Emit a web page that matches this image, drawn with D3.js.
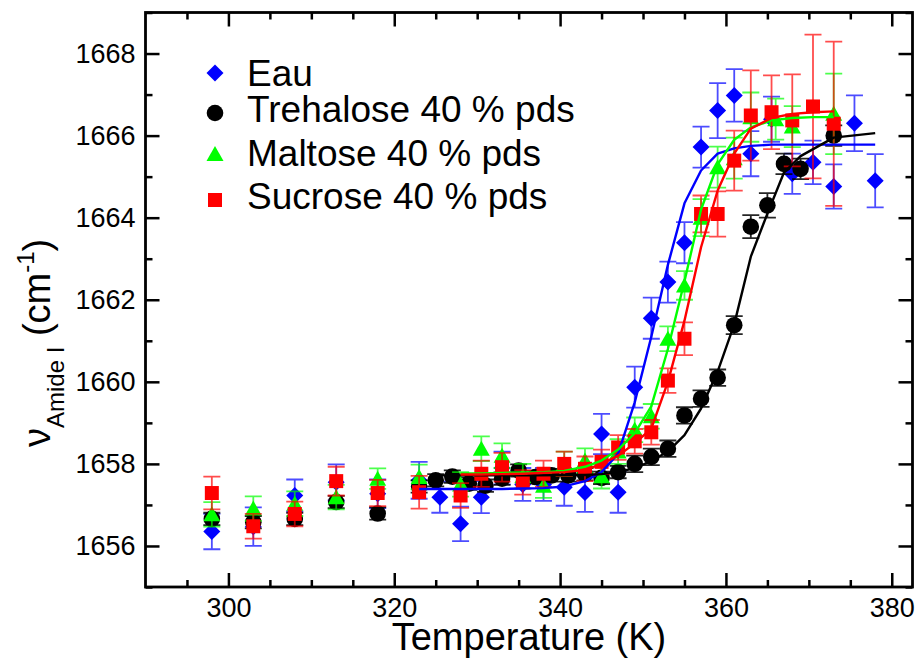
<!DOCTYPE html>
<html><head><meta charset="utf-8">
<script src="https://cdn.jsdelivr.net/npm/d3@7"></script>
<style>
body{margin:0;background:#fff}
svg{display:block}
text{font-family:"Liberation Sans",Arial,Helvetica,sans-serif;fill:#000}
</style>
</head><body>
<svg id="chart" width="919" height="658"></svg>
<script>
// ---------- data ----------
const xTicks = [300, 320, 340, 360, 380];
const yTicks = [1656, 1658, 1660, 1662, 1664, 1666, 1668];
const seriesNames = ["Eau", "Trehalose 40 % pds", "Maltose 40 % pds", "Sucrose 40 % pds"];

const eauT = [298, 303, 308, 313, 318, 323, 325.5, 328, 330.5, 333, 335.5, 338, 340.5, 343, 345, 347, 349, 351, 353, 355, 357, 359, 361, 363, 365.5, 368, 370.5, 373, 375.5, 378];
const eauV = [1656.35, 1656.47, 1657.23, 1657.55, 1657.27, 1657.6, 1657.19, 1656.54, 1657.19, 1657.9, 1657.5, 1657.5, 1657.43, 1657.3, 1658.73, 1657.31, 1659.87, 1661.55, 1662.43, 1663.39, 1665.72, 1666.61, 1666.98, 1665.56, 1666.4, 1665.07, 1665.35, 1664.76, 1666.3, 1664.9];
const eauE = [0.43, 0.47, 0.39, 0.44, 0.35, 0.45, 0.38, 0.42, 0.39, 0.4, 0.4, 0.4, 0.45, 0.47, 0.49, 0.5, 0.5, 0.5, 0.5, 0.5, 0.5, 0.67, 0.64, 0.55, 0.55, 0.49, 0.53, 0.54, 0.68, 0.65];

const treT = [298, 303, 308, 313, 318, 323, 325, 327, 329, 331, 333, 335, 337, 339, 341, 343, 345, 347, 349, 351, 353, 355, 357, 359, 361, 363, 365, 367, 369, 373];
const treV = [1656.66, 1656.58, 1656.66, 1657.07, 1656.79, 1657.45, 1657.6, 1657.69, 1657.52, 1657.47, 1657.64, 1657.84, 1657.68, 1657.72, 1657.72, 1657.75, 1657.66, 1657.8, 1658.0, 1658.17, 1658.37, 1659.18, 1659.59, 1660.1, 1661.38, 1663.78, 1664.3, 1665.31, 1665.19, 1666.0];
const treE = [0.15, 0.15, 0.15, 0.15, 0.15, 0.15, 0.15, 0.15, 0.15, 0.15, 0.15, 0.15, 0.15, 0.15, 0.15, 0.15, 0.15, 0.15, 0.2, 0.2, 0.2, 0.2, 0.2, 0.2, 0.22, 0.28, 0.3, 0.25, 0.25, 0.25];

const malT = [298, 303, 308, 313, 318, 323, 328, 330.5, 333, 335.5, 338, 340.5, 343, 345, 347, 349, 351, 353, 355, 357, 359, 361, 363, 366, 368, 373];
const malV = [1656.77, 1656.91, 1657.03, 1657.19, 1657.64, 1657.68, 1657.5, 1658.37, 1658.2, 1657.7, 1657.47, 1658.0, 1658.08, 1657.7, 1658.3, 1658.83, 1659.16, 1661.05, 1662.35, 1664.0, 1665.23, 1665.45, 1666.45, 1666.4, 1666.22, 1666.53];
const malE = [0.3, 0.3, 0.3, 0.3, 0.25, 0.3, 0.3, 0.3, 0.3, 0.3, 0.3, 0.3, 0.3, 0.3, 0.3, 0.3, 0.3, 0.3, 0.35, 0.45, 0.5, 0.5, 0.6, 0.5, 0.5, 0.98];

const sucT = [298, 303, 308, 313, 318, 323, 328, 330.5, 333, 335.5, 338, 340.5, 343, 345, 347, 349, 351, 353, 355, 357, 359, 361, 363, 365.5, 368, 370.5, 373];
const sucV = [1657.29, 1656.48, 1656.78, 1657.58, 1657.29, 1657.31, 1657.23, 1657.76, 1657.92, 1657.55, 1657.76, 1658.0, 1657.88, 1658.05, 1658.4, 1658.55, 1658.77, 1660.03, 1661.05, 1664.09, 1664.09, 1665.39, 1666.49, 1666.57, 1666.37, 1666.71, 1666.29];
const sucE = [0.4, 0.3, 0.3, 0.35, 0.32, 0.4, 0.3, 0.32, 0.35, 0.3, 0.32, 0.3, 0.3, 0.3, 0.3, 0.3, 0.3, 0.3, 0.4, 0.45, 0.55, 0.73, 1.1, 0.9, 1.12, 1.75, 2.0];

// fitted sigmoid curves
const eauFitT = [323, 325.5, 328, 330.5, 333, 335.5, 338, 340.5, 343, 345, 347, 349, 351, 353, 355, 357, 359, 361, 363, 365.5, 368, 370.5, 373, 375.5, 378];
const eauFitV = [1657.39, 1657.39, 1657.39, 1657.39, 1657.39, 1657.4, 1657.41, 1657.45, 1657.58, 1657.8, 1658.25, 1659.5, 1661.1, 1662.85, 1664.35, 1665.15, 1665.56, 1665.69, 1665.75, 1665.78, 1665.78, 1665.78, 1665.78, 1665.78, 1665.78];
const treFitT = [325, 329, 333, 337, 341, 343, 345, 347, 349, 351, 353, 355, 357, 359, 361, 363, 365, 367, 369, 373, 378];
const treFitV = [1657.72, 1657.72, 1657.72, 1657.72, 1657.73, 1657.73, 1657.75, 1657.8, 1657.9, 1658.07, 1658.3, 1658.7, 1659.35, 1660.25, 1661.4, 1663.05, 1664.1, 1665.1, 1665.5, 1665.95, 1666.06];
const malFitT = [328, 330.5, 333, 335.5, 338, 340.5, 343, 345, 347, 349, 351, 353, 355, 357, 359, 361, 363, 365.5, 368, 370.5, 373];
const malFitV = [1657.77, 1657.77, 1657.78, 1657.79, 1657.8, 1657.83, 1657.93, 1658.08, 1658.35, 1658.75, 1659.4, 1660.8, 1662.45, 1664.2, 1665.3, 1665.9, 1666.2, 1666.37, 1666.43, 1666.45, 1666.45];
const sucFitT = [328, 330.5, 333, 335.5, 338, 340.5, 343, 345, 347, 349, 351, 353, 355, 357, 359, 361, 363, 365.5, 368, 370.5, 373];
const sucFitV = [1657.74, 1657.74, 1657.75, 1657.76, 1657.78, 1657.8, 1657.85, 1658.0, 1658.2, 1658.5, 1658.86, 1660.0, 1661.49, 1663.28, 1664.66, 1665.56, 1666.17, 1666.43, 1666.53, 1666.57, 1666.59];

// ---------- chart ----------
const svg = d3.select("#chart");
const L = 145.5, R = 912.5, T = 12.5, B = 587;
const x = d3.scaleLinear().domain([290, 382.5]).range([L, R]);
const y = d3.scaleLinear().domain([1655, 1669]).range([B, T]);

const colors = ["#0000ff", "#000000", "#00ff00", "#ff0000"];
const shapes = ["diamond", "circle", "triangle", "square"];
function symPath(s) {
  if (s === "diamond") return "M0,-8.5L8.5,0L0,8.5L-8.5,0Z";
  if (s === "triangle") return "M0,-8L8.5,7L-8.5,7Z";
  if (s === "square") return "M-7,-7H7V7H-7Z";
  return d3.symbol(d3.symbolCircle, Math.PI * 8.3 * 8.3)();
}

const series = [
  {T: eauT, V: eauV, E: eauE, fT: eauFitT, fV: eauFitV},
  {T: treT, V: treV, E: treE, fT: treFitT, fV: treFitV},
  {T: malT, V: malV, E: malE, fT: malFitT, fV: malFitV},
  {T: sucT, V: sucV, E: sucE, fT: sucFitT, fV: sucFitV}
];

const plot = svg.append("g");
series.forEach((s, i) => {
  const pts = s.T.map((t, k) => ({t, v: s.V[k], e: s.E[k]}));
  const g = plot.append("g");
  const eb = g.append("g").attr("stroke", colors[i]).attr("stroke-width", 1.8)
    .attr("stroke-opacity", i === 1 ? 0.85 : 0.7).attr("fill", "none");
  pts.forEach(p => {
    const cx = x(p.t), y1 = y(p.v + p.e), y2 = y(p.v - p.e);
    eb.append("path").attr("d", `M${cx},${y1}V${y2}M${cx - 8.5},${y1}H${cx + 8.5}M${cx - 8.5},${y2}H${cx + 8.5}`);
  });
  g.selectAll("path.m").data(pts).join("path").attr("class", "m")
    .attr("d", symPath(shapes[i]))
    .attr("transform", p => `translate(${x(p.t)},${y(p.v)})`)
    .attr("fill", colors[i]);
});
// fit lines on top
const line = d3.line().x(d => x(d[0])).y(d => y(d[1]));
series.forEach((s, i) => {
  plot.append("path").attr("d", line(s.fT.map((t, k) => [t, s.fV[k]])))
    .attr("fill", "none").attr("stroke", colors[i]).attr("stroke-width", 2.4)
    .attr("stroke-linejoin", "round");
});

// ---------- axes ----------
const minorX = d3.range(295, 382, 5).filter(v => v % 20 !== 0);
const minorY = d3.range(1655, 1669.01, 1).filter(v => v % 2 !== 0);
function styleAxis(g) {
  g.select(".domain").remove();
  g.selectAll(".tick line").attr("stroke", "#000").attr("stroke-width", 2.5);
  g.selectAll("text").attr("font-size", 27).attr("font-family", '"Liberation Sans",Arial,sans-serif').attr("fill", "#000");
}
const maj = 14, mn = 7;
svg.append("g").attr("transform", `translate(0,${B})`)
  .call(d3.axisBottom(x).tickValues(xTicks).tickSizeInner(-maj).tickSizeOuter(0).tickPadding(11).tickFormat(d3.format("d")))
  .call(styleAxis);
svg.append("g").attr("transform", `translate(0,${B})`)
  .call(d3.axisBottom(x).tickValues(minorX).tickSizeInner(-mn).tickSizeOuter(0).tickFormat(""))
  .call(styleAxis);
svg.append("g").attr("transform", `translate(0,${T})`)
  .call(d3.axisTop(x).tickValues(xTicks).tickSizeInner(-maj).tickSizeOuter(0).tickFormat(""))
  .call(styleAxis);
svg.append("g").attr("transform", `translate(0,${T})`)
  .call(d3.axisTop(x).tickValues(minorX).tickSizeInner(-mn).tickSizeOuter(0).tickFormat(""))
  .call(styleAxis);
svg.append("g").attr("transform", `translate(${L},0)`)
  .call(d3.axisLeft(y).tickValues(yTicks).tickSizeInner(-maj).tickSizeOuter(0).tickPadding(10).tickFormat(d3.format("d")))
  .call(styleAxis);
svg.append("g").attr("transform", `translate(${L},0)`)
  .call(d3.axisLeft(y).tickValues(minorY).tickSizeInner(-mn).tickSizeOuter(0).tickFormat(""))
  .call(styleAxis);
svg.append("g").attr("transform", `translate(${R},0)`)
  .call(d3.axisRight(y).tickValues(yTicks).tickSizeInner(-maj).tickSizeOuter(0).tickFormat(""))
  .call(styleAxis);
svg.append("g").attr("transform", `translate(${R},0)`)
  .call(d3.axisRight(y).tickValues(minorY).tickSizeInner(-mn).tickSizeOuter(0).tickFormat(""))
  .call(styleAxis);

svg.append("rect").attr("x", L).attr("y", T).attr("width", R - L).attr("height", B - T)
  .attr("fill", "none").attr("stroke", "#000").attr("stroke-width", 2.8);

// axis titles
svg.append("text").attr("x", (L + R) / 2).attr("y", 650).attr("text-anchor", "middle")
  .attr("font-size", 38).text("Temperature (K)");

const yt = svg.append("text").attr("transform", "translate(50,447) rotate(-90)").attr("font-size", 38);
yt.append("tspan").text("ν");
yt.append("tspan").attr("font-size", 24).attr("dy", 14).text("Amide I");
yt.append("tspan").attr("dy", -14).text(" (cm");
yt.append("tspan").attr("font-size", 24).attr("dy", -16).text("-1");
yt.append("tspan").attr("dy", 16).text(")");

// ---------- legend ----------
const legY = [73, 113, 154, 200];
const legBase = [86, 122, 166, 209];
const leg = svg.append("g");
seriesNames.forEach((n, i) => {
  leg.append("path").attr("d", symPath(shapes[i]))
    .attr("transform", `translate(215,${legY[i]})`).attr("fill", colors[i]);
  leg.append("text").attr("x", 247).attr("y", legBase[i]).attr("font-size", 37).text(n);
});
</script>
</body></html>
